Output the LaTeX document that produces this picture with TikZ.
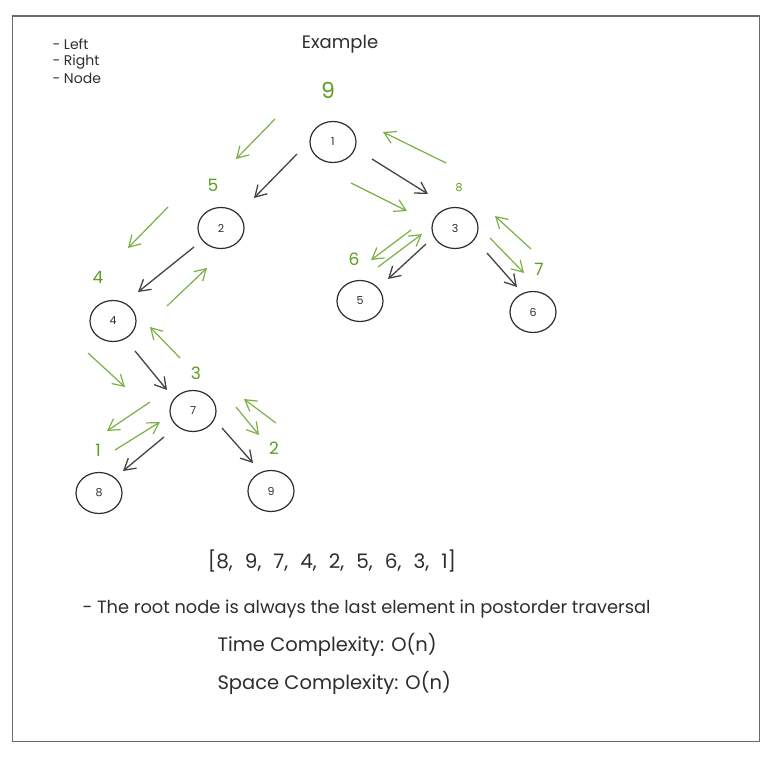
\documentclass[tikz,border=0pt]{standalone}
\usepackage{fontspec}
\setmainfont{Poppins}
\usetikzlibrary{arrows.meta,calc,shapes.geometric}
\definecolor{ink}{HTML}{2E2E2E}
\definecolor{edgeink}{HTML}{444444}
\definecolor{walk}{HTML}{7BB043}
\definecolor{walknum}{HTML}{5E9E1E}
\definecolor{framegray}{HTML}{6A6A6A}
\newcommand{\gap}{,\hspace{12pt}}
\begin{document}
\begin{tikzpicture}[x=1pt,y=-1pt,
  treenode/.style={draw=ink,line width=1.2pt,ellipse,minimum width=46pt,minimum height=41pt,inner sep=0pt,font=\fontsize{11}{13}\selectfont,text=ink},
  edge/.style={draw=edgeink,line width=1.3pt,-{Straight Barb[length=11pt,width=13pt,line width=1.3pt]}},
  walkarrow/.style={draw=walk,line width=1.2pt,-{Straight Barb[length=11pt,width=13pt,line width=1.2pt]}},
  order/.style={text=walknum,font=\fontsize{17}{19}\selectfont},
  note/.style={text=ink,anchor=west},
  legend/.style={text=ink,anchor=base west,font=\fontsize{14}{16}\selectfont}]
\useasboundingbox (0,0) rectangle (776,760);
\fill[white] (0,0) rectangle (776,760);
\draw[framegray,line width=1.5pt] (12.5,16) rectangle (759.5,741.5);

% legend and title
\node[legend] (l1) at (49,49) {- Left};
\node[legend] (l2) at (49,66) {- Right};
\node[legend] (l3) at (49,84) {- Node};
\node[text=ink,font=\fontsize{18}{20}\selectfont] (title) at (340,44) {Example};

% tree nodes
\node[treenode] (n1) at (333,142) {1};
\node[treenode] (n2) at (221,228) {2};
\node[treenode] (n3) at (455,228) {3};
\node[treenode] (n4) at (113,321) {4};
\node[treenode] (n5) at (360,301) {5};
\node[treenode] (n6) at (533,312) {6};
\node[treenode] (n7) at (193,411) {7};
\node[treenode] (n8) at (99,493) {8};
\node[treenode] (n9) at (271,491) {9};

% parent to child edges
\draw[edge] ($(n1)+(-36,12)$) -- ($(n2)+(33,-30)$);
\draw[edge] ($(n1)+(39,17)$) -- ($(n3)+(-27,-34)$);
\draw[edge] ($(n2)+(-27,19)$) -- ($(n4)+(25,-29)$);
\draw[edge] ($(n3)+(-29,16)$) -- ($(n5)+(28,-22)$);
\draw[edge] ($(n3)+(32,25)$) -- ($(n6)+(-16,-25)$);
\draw[edge] ($(n4)+(22,30)$) -- ($(n7)+(-26,-21)$);
\draw[edge] ($(n7)+(-29,26)$) -- ($(n8)+(24,-22)$);
\draw[edge] ($(n7)+(29,17)$) -- ($(n9)+(-18,-28)$);

% traversal walk beside the edges
\foreach \ax/\ay/\bx/\by in {
  275/119/236/159,  168/207/128/248,  88/353/125/387,
  150/402/107/431,  115/450/160/422,  236/407/259/435,
  276/423/244/399,  180/358/150/327,  167/306/207/268,
  351/183/407/211,  411/230/371/260,  378/267/422/234,
  490/238/524/273,  531/249/495/216,  446/163/383/132}
  \draw[walkarrow] (\ax,\ay) -- (\bx,\by);

% visiting order
\node[order,font=\fontsize{22}{24}\selectfont] (o9) at (328,90) {9};
\node[order] (o5) at (213,185) {5};
\node[order,font=\fontsize{11}{13}\selectfont] (o8) at (459,188) {8};
\node[order] (o4) at (98,277) {4};
\node[order] (o6) at (354,259) {6};
\node[order] (o7) at (539,269) {7};
\node[order] (o3) at (196,373) {3};
\node[order] (o1) at (98,450) {1};
\node[order] (o2) at (274,448) {2};

% result and notes
\node[text=ink,font=\fontsize{20}{22}\selectfont] (res) at (332,561) {[8\gap 9\gap 7\gap 4\gap 2\gap 5\gap 6\gap 3\gap 1]};
\node[note,font=\fontsize{17.8}{20}\selectfont] (root) at (79,609) {- The root node is always the last element in postorder traversal};
\node[note,font=\fontsize{19.5}{21}\selectfont] (tc) at (214,645) {Time Complexity: O(n)};
\node[note,font=\fontsize{19.5}{21}\selectfont] (sc) at (214,683) {Space Complexity: O(n)};
\end{tikzpicture}
\end{document}
